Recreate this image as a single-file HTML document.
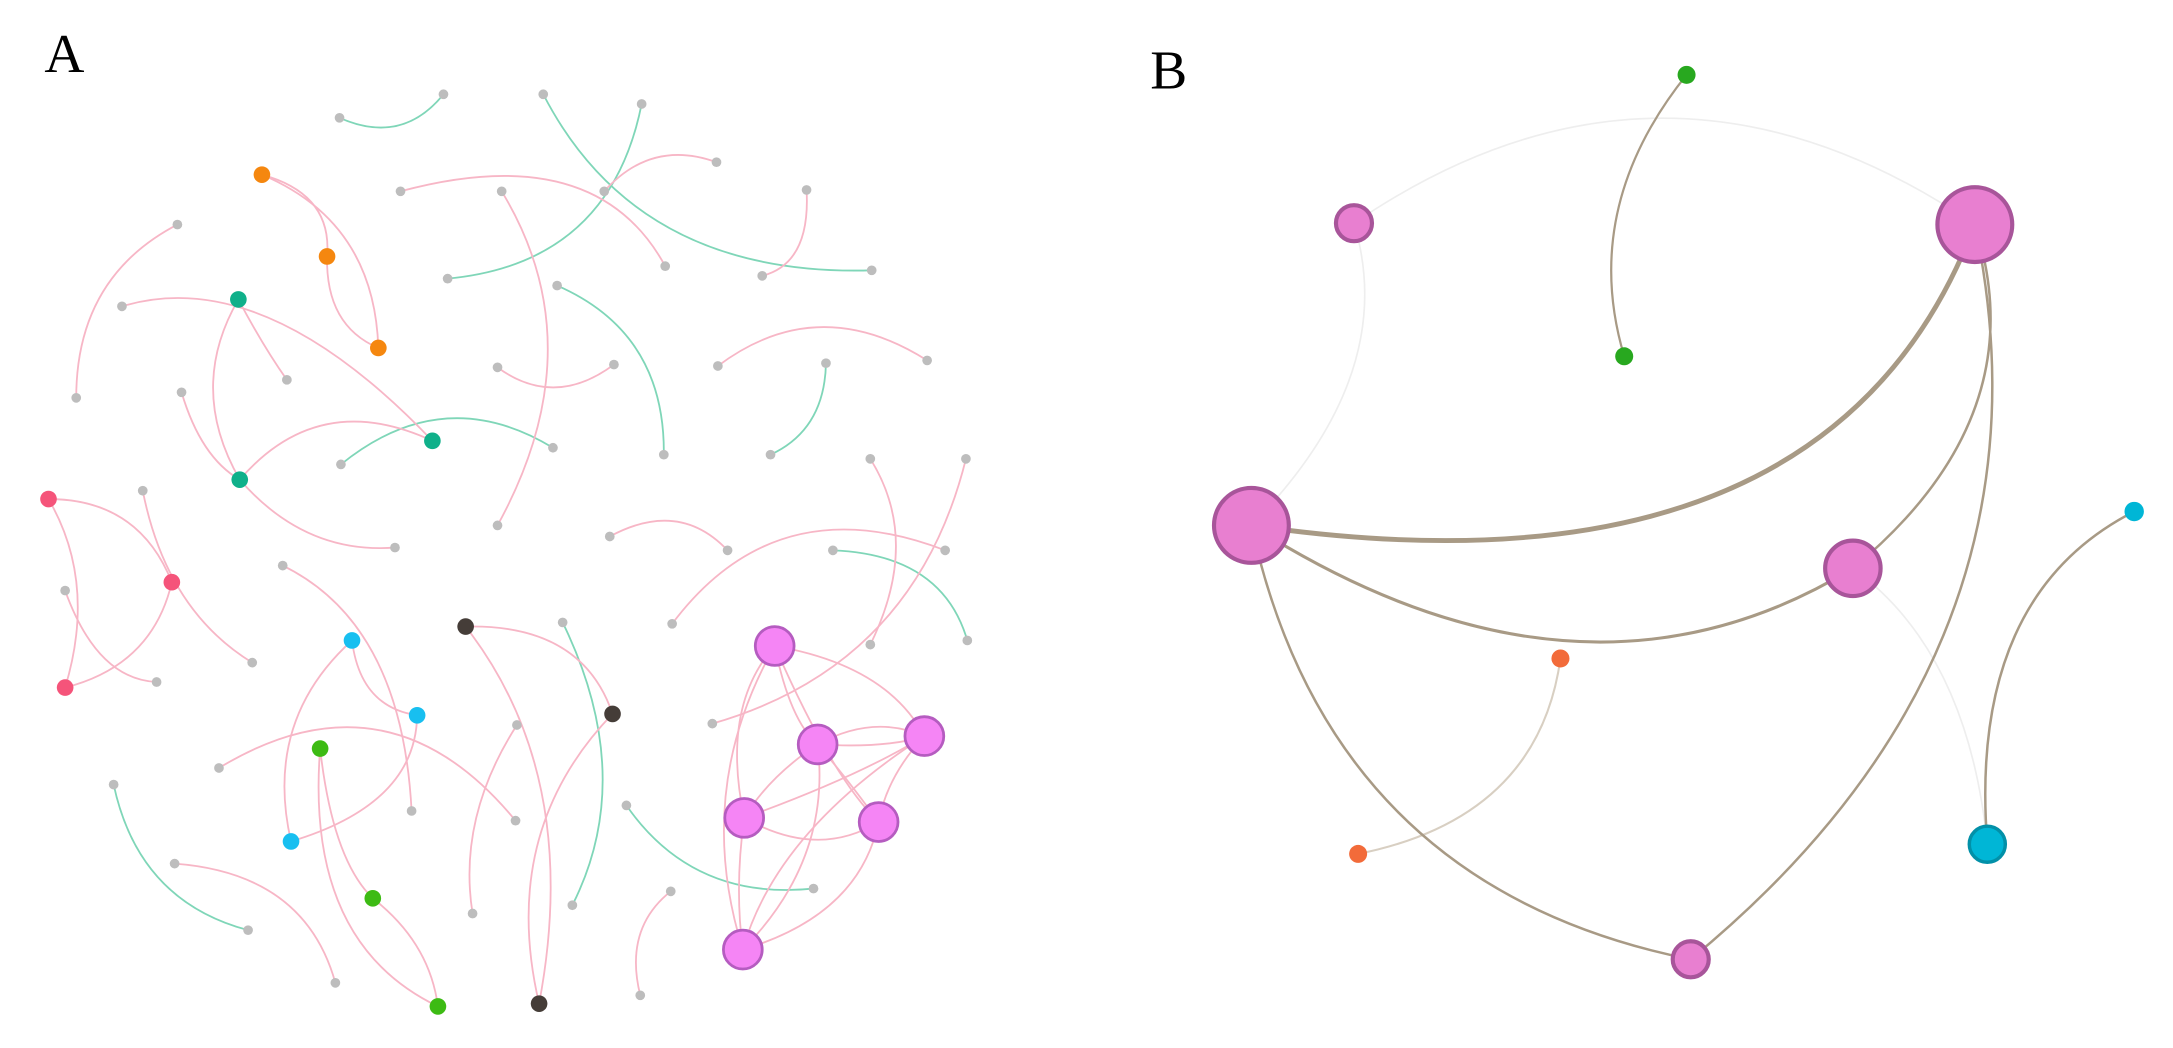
<!DOCTYPE html>
<html><head><meta charset="utf-8"><style>html,body{margin:0;padding:0;background:#fff}svg{display:block}</style></head><body>
<svg width="2173" height="1048" viewBox="0 0 1568 756" preserveAspectRatio="none" xmlns="http://www.w3.org/2000/svg">
<g fill="none" stroke-width="1.3">
<g stroke="#7fd6b8">
<path d="M245,85 Q290,105 320,68"/>
<path d="M392,68 Q460,200 629,195"/>
<path d="M463,75 Q440,190 323,201"/>
<path d="M402,206 Q480,240 479,328"/>
<path d="M596,262 Q595,310 556,328"/>
<path d="M246,335 Q320,275 399,323"/>
<path d="M601,397 Q680,400 698,462"/>
<path d="M82,566 Q100,650 179,671"/>
<path d="M406,449 Q460,560 413,653"/>
<path d="M452,581 Q500,650 587,641"/>
</g>
<g stroke="#f7b6c6">
<path d="M436,138 Q470,100 517,117"/>
<path d="M289,138 Q430,100 480,192"/>
<path d="M362,138 Q430,250 359,379"/>
<path d="M582,137 Q585,190 550,199"/>
<path d="M359,265 Q400,295 443,263"/>
<path d="M518,264 Q590,210 669,260"/>
<path d="M189,126 Q240,140 236,185"/>
<path d="M189,126 Q270,160 273,251"/>
<path d="M236,185 Q235,235 273,251"/>
<path d="M128,162 Q55,200 55,287"/>
<path d="M88,221 Q190,190 312,318"/>
<path d="M172,216 Q135,280 173,346"/>
<path d="M172,216 Q190,250 207,274"/>
<path d="M131,283 Q145,330 173,346"/>
<path d="M173,346 Q230,280 312,318"/>
<path d="M173,346 Q220,400 285,395"/>
<path d="M35,360 Q100,360 124,420"/>
<path d="M35,360 Q70,420 47,496"/>
<path d="M124,420 Q110,480 47,496"/>
<path d="M103,354 Q120,440 182,478"/>
<path d="M47,426 Q70,490 113,492"/>
<path d="M440,387 Q490,360 525,397"/>
<path d="M485,450 Q560,350 682,397"/>
<path d="M628,331 Q665,390 628,465"/>
<path d="M697,331 Q660,480 514,522"/>
<path d="M254,462 Q260,510 301,516"/>
<path d="M254,462 Q190,520 210,607"/>
<path d="M301,516 Q300,580 210,607"/>
<path d="M204,408 Q290,450 297,585"/>
<path d="M231,540 Q220,680 316,726"/>
<path d="M231,540 Q240,620 269,648"/>
<path d="M269,648 Q310,680 316,726"/>
<path d="M158,554 Q280,480 372,592"/>
<path d="M126,623 Q220,630 242,709"/>
<path d="M336,452 Q420,450 442,515"/>
<path d="M336,452 Q420,560 389,724"/>
<path d="M442,515 Q360,600 389,724"/>
<path d="M373,523 Q330,590 341,659"/>
<path d="M484,643 Q450,670 462,718"/>
<path d="M559,466 Q640,480 667,531"/>
<path d="M559,466 Q570,520 590,537"/>
<path d="M559,466 Q520,510 537,590"/>
<path d="M559,466 Q500,570 536,685"/>
<path d="M559,466 Q600,560 634,593"/>
<path d="M590,537 Q630,515 667,531"/>
<path d="M590,537 Q640,540 667,531"/>
<path d="M590,537 Q555,560 537,590"/>
<path d="M590,537 Q610,560 634,593"/>
<path d="M590,537 Q600,620 536,685"/>
<path d="M667,531 Q620,560 537,590"/>
<path d="M667,531 Q640,560 634,593"/>
<path d="M667,531 Q560,600 536,685"/>
<path d="M537,590 Q590,620 634,593"/>
<path d="M634,593 Q620,660 536,685"/>
<path d="M537,590 Q530,640 536,685"/>
</g>
</g>
<g fill="#bdbdbd">
<circle cx="245" cy="85" r="3.5"/><circle cx="320" cy="68" r="3.5"/><circle cx="392" cy="68" r="3.5"/><circle cx="463" cy="75" r="3.5"/><circle cx="629" cy="195" r="3.5"/><circle cx="323" cy="201" r="3.5"/><circle cx="436" cy="138" r="3.5"/><circle cx="517" cy="117" r="3.5"/><circle cx="289" cy="138" r="3.5"/><circle cx="480" cy="192" r="3.5"/><circle cx="362" cy="138" r="3.5"/><circle cx="359" cy="379" r="3.5"/><circle cx="582" cy="137" r="3.5"/><circle cx="550" cy="199" r="3.5"/><circle cx="402" cy="206" r="3.5"/><circle cx="479" cy="328" r="3.5"/><circle cx="359" cy="265" r="3.5"/><circle cx="443" cy="263" r="3.5"/><circle cx="518" cy="264" r="3.5"/><circle cx="669" cy="260" r="3.5"/><circle cx="596" cy="262" r="3.5"/><circle cx="556" cy="328" r="3.5"/><circle cx="128" cy="162" r="3.5"/><circle cx="55" cy="287" r="3.5"/><circle cx="88" cy="221" r="3.5"/><circle cx="207" cy="274" r="3.5"/><circle cx="131" cy="283" r="3.5"/><circle cx="285" cy="395" r="3.5"/><circle cx="246" cy="335" r="3.5"/><circle cx="399" cy="323" r="3.5"/><circle cx="103" cy="354" r="3.5"/><circle cx="182" cy="478" r="3.5"/><circle cx="47" cy="426" r="3.5"/><circle cx="113" cy="492" r="3.5"/><circle cx="440" cy="387" r="3.5"/><circle cx="525" cy="397" r="3.5"/><circle cx="485" cy="450" r="3.5"/><circle cx="682" cy="397" r="3.5"/><circle cx="601" cy="397" r="3.5"/><circle cx="698" cy="462" r="3.5"/><circle cx="628" cy="331" r="3.5"/><circle cx="628" cy="465" r="3.5"/><circle cx="697" cy="331" r="3.5"/><circle cx="514" cy="522" r="3.5"/><circle cx="204" cy="408" r="3.5"/><circle cx="297" cy="585" r="3.5"/><circle cx="158" cy="554" r="3.5"/><circle cx="372" cy="592" r="3.5"/><circle cx="82" cy="566" r="3.5"/><circle cx="179" cy="671" r="3.5"/><circle cx="126" cy="623" r="3.5"/><circle cx="242" cy="709" r="3.5"/><circle cx="406" cy="449" r="3.5"/><circle cx="413" cy="653" r="3.5"/><circle cx="373" cy="523" r="3.5"/><circle cx="341" cy="659" r="3.5"/><circle cx="452" cy="581" r="3.5"/><circle cx="587" cy="641" r="3.5"/><circle cx="484" cy="643" r="3.5"/><circle cx="462" cy="718" r="3.5"/>
</g>
<g fill="#f5870f"><circle cx="189" cy="126" r="6"/><circle cx="236" cy="185" r="6"/><circle cx="273" cy="251" r="6"/></g>
<g fill="#10b08a"><circle cx="172" cy="216" r="6"/><circle cx="173" cy="346" r="6"/><circle cx="312" cy="318" r="6"/></g>
<g fill="#f5547a"><circle cx="35" cy="360" r="6"/><circle cx="124" cy="420" r="6"/><circle cx="47" cy="496" r="6"/></g>
<g fill="#18bff0"><circle cx="254" cy="462" r="6"/><circle cx="301" cy="516" r="6"/><circle cx="210" cy="607" r="6"/></g>
<g fill="#3dbb14"><circle cx="231" cy="540" r="6"/><circle cx="269" cy="648" r="6"/><circle cx="316" cy="726" r="6"/></g>
<g fill="#453d38"><circle cx="336" cy="452" r="6"/><circle cx="442" cy="515" r="6"/><circle cx="389" cy="724" r="6"/></g>
<g fill="#f585f5" stroke="#b55cc0" stroke-width="2"><circle cx="559" cy="466" r="14"/><circle cx="590" cy="537" r="14"/><circle cx="667" cy="531" r="14"/><circle cx="537" cy="590" r="14"/><circle cx="634" cy="593" r="14"/><circle cx="536" cy="685" r="14"/></g>
<g fill="none">
<path d="M977,161 Q1200,9 1425,162" stroke="#eeeeee" stroke-width="1.2"/>
<path d="M977,161 Q1010,270 903,379" stroke="#eeeeee" stroke-width="1.2"/>
<path d="M1337,410 Q1420,470 1434,609" stroke="#eeeeee" stroke-width="1.2"/>
<path d="M1126,475 Q1110,590 980,616" stroke="#d8cfc2" stroke-width="1.5"/>
<path d="M903,379 Q1320,440 1425,162" stroke="#a89a85" stroke-width="3.5"/>
<path d="M903,379 Q1140,530 1337,410" stroke="#a89a85" stroke-width="2.2"/>
<path d="M1425,162 Q1470,300 1337,410" stroke="#a89a85" stroke-width="1.8"/>
<path d="M1425,162 Q1490,470 1220,692" stroke="#a89a85" stroke-width="1.8"/>
<path d="M903,379 Q960,640 1220,692" stroke="#a89a85" stroke-width="1.8"/>
<path d="M1217,54 Q1140,150 1172,257" stroke="#a89a85" stroke-width="1.6"/>
<path d="M1540,369 Q1420,430 1434,609" stroke="#a89a85" stroke-width="1.8"/>
</g>
<g fill="#e87fd0" stroke="#a8559a" stroke-width="3">
<circle cx="977" cy="161" r="13"/><circle cx="1425" cy="162" r="27"/><circle cx="903" cy="379" r="27"/><circle cx="1337" cy="410" r="20"/><circle cx="1220" cy="692" r="13"/>
</g>
<circle cx="1434" cy="609" r="13" fill="#00b6d6" stroke="#0290a8" stroke-width="2.5"/>
<circle cx="1540" cy="369" r="7" fill="#00b6d6"/>
<circle cx="1126" cy="475" r="6.5" fill="#f26b3a"/>
<circle cx="980" cy="616" r="6.5" fill="#f26b3a"/>
<circle cx="1217" cy="54" r="6.5" fill="#28a81f"/>
<circle cx="1172" cy="257" r="6.5" fill="#28a81f"/>
<text x="32" y="52" font-family="Liberation Serif, serif" font-size="40">A</text>
<text x="830" y="64" font-family="Liberation Serif, serif" font-size="40">B</text>
</svg>
</body></html>
